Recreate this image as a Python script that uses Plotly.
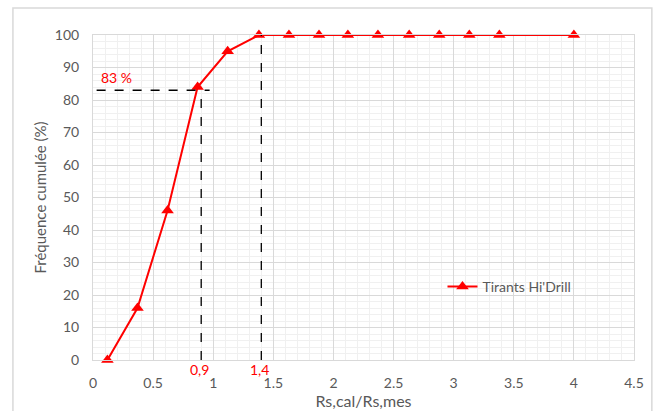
import plotly.graph_objects as go

ratio = [0.12, 0.37, 0.62, 0.87, 1.12, 1.38, 1.63, 1.88, 2.12, 2.37, 2.63, 2.88, 3.13, 3.38, 4.0]
freq = [0, 16, 46, 84, 95, 100, 100, 100, 100, 100, 100, 100, 100, 100, 100]
series_name = "Tirants Hi'Drill"
x_ticks = [0, 0.5, 1, 1.5, 2, 2.5, 3, 3.5, 4, 4.5]
x_tick_labels = ["0", "0.5", "1", "1.5", "2", "2.5", "3", "3.5", "4", "4.5"]
y_ticks = [0, 10, 20, 30, 40, 50, 60, 70, 80, 90, 100]
ref_x1, ref_x2, ref_y = 0.9, 1.4, 83

RED = "#ff0000"
GREY = "#595959"
FONT = "Lato"

fig = go.Figure()
fig.add_trace(go.Scatter(
    x=ratio, y=freq, mode="lines+markers", name=series_name,
    line=dict(color=RED, width=2),
    marker=dict(symbol="triangle-up", size=11, color=RED),
    cliponaxis=False,
))

dash = dict(color="black", width=1.3, dash="dash")
fig.add_shape(type="line", x0=ref_x1, x1=ref_x1, y0=0, y1=ref_y, line=dash)
fig.add_shape(type="line", x0=0.03, x1=0.97, y0=ref_y, y1=ref_y, line=dash)
fig.add_shape(type="line", x0=ref_x2, x1=ref_x2, y0=0, y1=100, line=dash)
# outer chart border
fig.add_shape(type="rect", xref="paper", yref="paper", x0=-0.148, x1=1.033, y0=-0.25, y1=1.083,
              line=dict(color="#d9d9d9", width=1.5), layer="below")

fig.add_annotation(x=0.05, y=ref_y, text="83 %", showarrow=False, xanchor="left", yanchor="bottom",
                   yshift=2, font=dict(color=RED, size=14, family=FONT))
fig.add_annotation(x=ref_x1, y=0, text="0,9", showarrow=False, xanchor="center", yanchor="top",
                   yshift=1, xshift=-2, font=dict(color=RED, size=14, family=FONT))
fig.add_annotation(x=ref_x2, y=0, text="1,4", showarrow=False, xanchor="center", yanchor="top",
                   yshift=1, xshift=-2, font=dict(color=RED, size=14, family=FONT))

fig.update_layout(
    width=657, height=411,
    margin=dict(l=93, r=23, t=35, b=51),
    paper_bgcolor="white", plot_bgcolor="white",
    font=dict(family=FONT, color=GREY, size=14),
    showlegend=True,
    legend=dict(x=0.646, y=0.225, xanchor="left", yanchor="middle", bgcolor="rgba(0,0,0,0)",
                font=dict(size=14, color=GREY)),
    xaxis=dict(range=[0, 4.5], tickvals=x_ticks, ticktext=x_tick_labels, showgrid=True,
               gridcolor="#d9d9d9", gridwidth=1, zeroline=False, automargin=False,
               showline=True, linecolor="#d9d9d9", mirror=True, ticks="",
               ticklabelstandoff=10,
               minor=dict(dtick=0.1, showgrid=True, gridcolor="#f0f0f0", gridwidth=1),
               title=dict(text="Rs,cal/Rs,mes", font=dict(size=16, color=GREY), standoff=4)),
    yaxis=dict(range=[0, 100], tickvals=y_ticks, showgrid=True, gridcolor="#d9d9d9",
               zeroline=False, showline=True, linecolor="#d9d9d9", mirror=True, ticks="",
               ticklabelstandoff=10, automargin=False,
               minor=dict(dtick=2, showgrid=True, gridcolor="#f0f0f0", gridwidth=1),
               title=dict(text="Fréquence cumulée (%)", font=dict(size=15, color=GREY), standoff=4)),
)

fig.write_html("out.html")
